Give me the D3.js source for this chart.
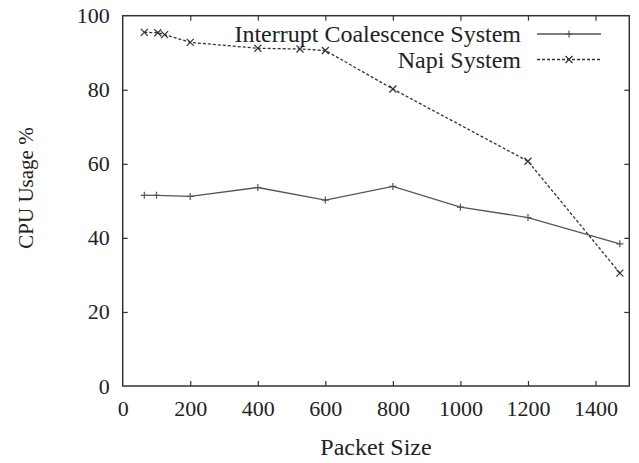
<!DOCTYPE html>
<html>
<head>
<meta charset="utf-8">
<script src="https://cdn.jsdelivr.net/npm/d3@7"></script>
<style>
  html, body { margin: 0; padding: 0; background: #fff; }
  svg { display: block; }
</style>
</head>
<body>
<svg id="chart" width="639" height="463"></svg>
<script>
// CPU usage vs. packet size for two receive strategies
const coalesceSizes = [64, 100, 200, 400, 600, 800, 1000, 1200, 1472];
const coalesceUsage = [51.5, 51.5, 51.2, 53.6, 50.2, 53.9, 48.3, 45.5, 38.4];

const napiSizes = [64, 104, 124, 200, 400, 525, 600, 800, 1200, 1472];
const napiUsage = [95.5, 95.4, 94.9, 92.8, 91.2, 91.0, 90.6, 80.2, 60.7, 30.5];

const seriesNames = ["Interrupt Coalescence System", "Napi System"];
const xTicks = [0, 200, 400, 600, 800, 1000, 1200, 1400];
const yTicks = [0, 20, 40, 60, 80, 100];

const FONT = "'Liberation Serif', 'Times New Roman', serif";
const W = 639, H = 463;
const margin = { left: 122.7, right: W - 629.3, top: 15.7, bottom: H - 386 };
const svg = d3.select("#chart").style("font-family", FONT);

const x = d3.scaleLinear().domain([0, 1500]).range([margin.left, W - margin.right]);
const y = d3.scaleLinear().domain([0, 100]).range([H - margin.bottom, margin.top]);

const axisColor = "#333";
const textColor = "#222";
const tickLen = 5;

// Axes with inward ticks on all four sides
const gx = svg.append("g").attr("transform", `translate(0,${y(0)})`)
  .call(d3.axisBottom(x).tickValues(xTicks).tickSize(-tickLen).tickPadding(14).tickFormat(d3.format("d")));
const gxTop = svg.append("g").attr("transform", `translate(0,${y(100)})`)
  .call(d3.axisTop(x).tickValues(xTicks).tickSize(-tickLen).tickFormat(""));
const gy = svg.append("g").attr("transform", `translate(${x(0)},0)`)
  .call(d3.axisLeft(y).tickValues(yTicks).tickSize(-tickLen).tickPadding(14).tickFormat(d3.format("d")));
const gyRight = svg.append("g").attr("transform", `translate(${x(1500)},0)`)
  .call(d3.axisRight(y).tickValues(yTicks).tickSize(-tickLen).tickFormat(""));

[gx, gxTop, gy, gyRight].forEach(g => {
  g.attr("font-family", null).attr("font-size", null);
  g.select(".domain").remove();
  g.selectAll(".tick line").attr("stroke", axisColor).attr("stroke-width", 1.2);
  g.selectAll(".tick text")
    .style("font-family", FONT)
    .style("font-size", "22px")
    .attr("fill", textColor);
});
gy.selectAll(".tick text").attr("dx", "1");
// no tick marks on the frame corners
gx.selectAll(".tick").filter(d => d === 0).select("line").remove();
gxTop.selectAll(".tick").filter(d => d === 0).select("line").remove();
gy.selectAll(".tick").filter(d => d === 0 || d === 100).select("line").remove();
gyRight.selectAll(".tick").filter(d => d === 0 || d === 100).select("line").remove();

// Plot frame
svg.append("rect")
  .attr("x", x(0)).attr("y", y(100))
  .attr("width", x(1500) - x(0)).attr("height", y(0) - y(100))
  .attr("fill", "none").attr("stroke", axisColor).attr("stroke-width", 1.5);

// Axis titles
svg.append("text")
  .attr("x", (x(0) + x(1500)) / 2).attr("y", 455)
  .attr("text-anchor", "middle")
  .style("font-family", FONT).style("font-size", "24px")
  .attr("fill", textColor)
  .text("Packet Size");
svg.append("text")
  .attr("transform", "translate(33,188) rotate(-90)")
  .attr("text-anchor", "middle")
  .style("font-family", FONT).style("font-size", "21px")
  .attr("fill", textColor)
  .text("CPU Usage %");

const line = d3.line().x(d => x(d[0])).y(d => y(d[1]));

const coalesce = coalesceSizes.map((s, i) => [s, coalesceUsage[i]]);
const napi = napiSizes.map((s, i) => [s, napiUsage[i]]);

const styles = [
  { data: coalesce, color: "#555", dash: null, marker: "plus" },
  { data: napi, color: "#333", dash: "3,2", marker: "cross" }
];

function drawMarker(g, cx, cy, kind, color) {
  const r = 3.5;
  const p = d3.path();
  if (kind === "plus") {
    p.moveTo(cx - r, cy); p.lineTo(cx + r, cy);
    p.moveTo(cx, cy - r); p.lineTo(cx, cy + r);
  } else {
    p.moveTo(cx - r, cy - r); p.lineTo(cx + r, cy + r);
    p.moveTo(cx - r, cy + r); p.lineTo(cx + r, cy - r);
  }
  g.append("path").attr("d", p.toString())
    .attr("stroke", color).attr("stroke-width", 1.2).attr("fill", "none");
}

styles.forEach(s => {
  const g = svg.append("g");
  g.append("path").datum(s.data)
    .attr("d", line)
    .attr("fill", "none")
    .attr("stroke", s.color)
    .attr("stroke-width", 1.3)
    .attr("stroke-dasharray", s.dash);
  s.data.forEach(d => drawMarker(g, x(d[0]), y(d[1]), s.marker, s.color));
});

// Legend, top right inside the frame
const legendRows = [34, 59.5];
styles.forEach((s, i) => {
  const g = svg.append("g");
  g.append("text")
    .attr("x", 521).attr("y", legendRows[i] + 8)
    .attr("text-anchor", "end")
    .style("font-family", FONT).style("font-size", "24px")
    .attr("fill", textColor)
    .text(seriesNames[i]);
  g.append("line")
    .attr("x1", 537).attr("x2", 601)
    .attr("y1", legendRows[i]).attr("y2", legendRows[i])
    .attr("stroke", s.color).attr("stroke-width", 1.3)
    .attr("stroke-dasharray", s.dash);
  drawMarker(g, 569, legendRows[i], s.marker, s.color);
});
</script>
</body>
</html>
